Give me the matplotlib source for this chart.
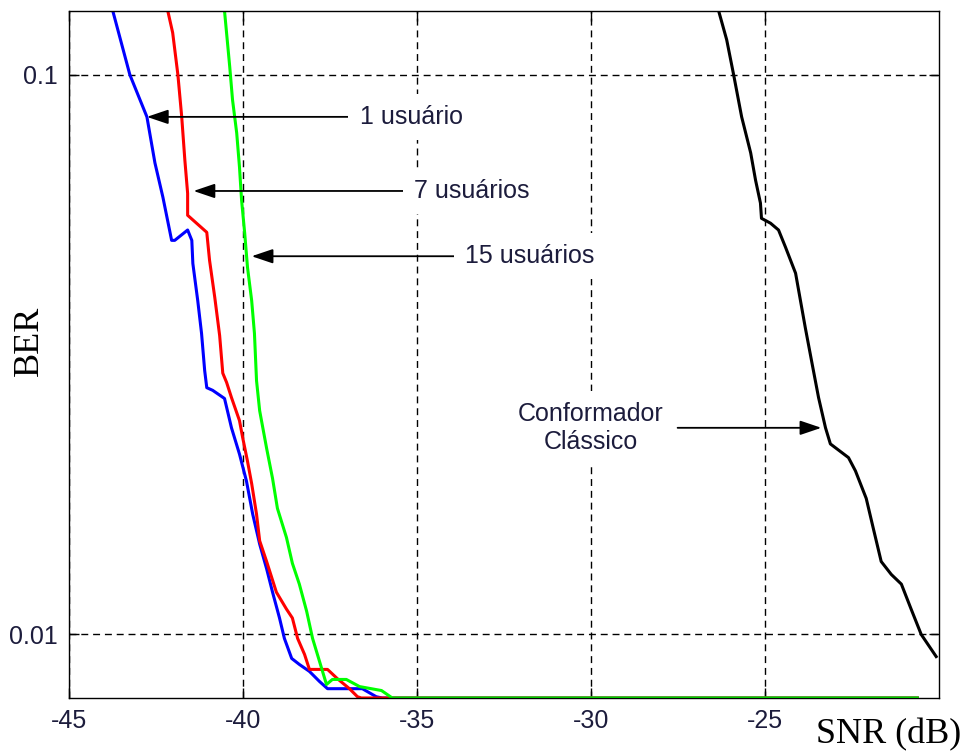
import matplotlib
matplotlib.use("Agg")
import matplotlib.pyplot as plt

plt.rcParams["font.family"] = ["Liberation Sans", "DejaVu Sans"]
plt.rcParams["axes.unicode_minus"] = False

# BER floor (values at the bottom of the plot)
BER_FLOOR = 0.0077

# 1 usuario (blue)
snr_1 = [-43.74, -43.25, -42.76, -42.53, -42.30, -42.05, -41.96, -41.59, -41.47, -41.44,
         -41.30, -41.19, -41.10, -41.04, -40.87, -40.53, -40.33, -40.10, -39.90, -39.72,
         -39.52, -39.32, -39.15, -38.95, -38.81, -38.60, -38.38, -38.09, -37.80, -37.57,
         -37.23, -36.57, -36.17, -36.0, -20.62]
ber_1 = [0.130, 0.100, 0.0841, 0.0696, 0.0604, 0.0506, 0.0506, 0.0528, 0.0506, 0.0460,
         0.0395, 0.0345, 0.0296, 0.0276, 0.0273, 0.0264, 0.0234, 0.0210, 0.0188, 0.0164,
         0.0145, 0.0131, 0.0119, 0.0107, 0.00984, 0.00906, 0.00884, 0.00859, 0.00824, 0.0080,
         0.0080, 0.0080, 0.00774, BER_FLOOR, BER_FLOOR]

# 7 usuarios (red)
snr_7 = [-42.16, -42.02, -41.87, -41.76, -41.67, -41.59, -41.59, -41.04, -40.96, -40.81,
         -40.67, -40.58, -40.47, -40.33, -40.10, -40.01, -39.87, -39.75, -39.61, -39.52,
         -39.32, -39.04, -38.75, -38.58, -38.43, -38.23, -38.09, -37.57, -37.29, -36.94,
         -36.71, -36.6, -20.62]
ber_7 = [0.130, 0.1189, 0.100, 0.0841, 0.0704, 0.0614, 0.0561, 0.0523, 0.0466, 0.0400,
         0.0342, 0.0293, 0.0282, 0.0265, 0.0241, 0.0225, 0.0204, 0.0186, 0.0164, 0.0147,
         0.0135, 0.0119, 0.0111, 0.0107, 0.00984, 0.00921, 0.00866, 0.00866, 0.00834, 0.0080,
         0.00774, BER_FLOOR, BER_FLOOR]

# 15 usuarios (green)
snr_15 = [-40.53, -40.38, -40.30, -40.18, -40.10, -40.04, -39.95, -39.87, -39.75, -39.67,
          -39.61, -39.52, -39.32, -39.15, -39.01, -38.75, -38.58, -38.38, -38.17, -38.00,
          -37.80, -37.60, -37.43, -37.03, -36.65, -36.17, -36.02, -35.71, -20.62]
ber_15 = [0.130, 0.1033, 0.0902, 0.0787, 0.0684, 0.0597, 0.0521, 0.0453, 0.0395, 0.0345,
          0.0284, 0.0251, 0.0215, 0.0190, 0.0168, 0.0149, 0.0134, 0.0123, 0.0110, 0.00984,
          0.00895, 0.00814, 0.00831, 0.00831, 0.00807, 0.00797, 0.00794, BER_FLOOR, BER_FLOOR]

# Conformador Classico (black)
snr_cc = [-26.33, -26.10, -25.90, -25.67, -25.41, -25.27, -25.13, -25.10, -24.84, -24.61,
          -24.41, -24.12, -23.98, -23.84, -23.66, -23.46, -23.26, -23.12, -22.95, -22.60,
          -22.40, -22.09, -21.89, -21.66, -21.37, -21.08, -20.80, -20.51, -20.08]
ber_cc = [0.130, 0.1155, 0.100, 0.0841, 0.0725, 0.0648, 0.0590, 0.0554, 0.0543, 0.0528,
          0.0492, 0.0442, 0.0395, 0.0353, 0.0308, 0.0265, 0.0234, 0.0219, 0.0215, 0.0207,
          0.0196, 0.0175, 0.0155, 0.0135, 0.0128, 0.0123, 0.0111, 0.0100, 0.00913]

x_ticks = [-45, -40, -35, -30, -25]
y_ticks = [0.1, 0.01]
y_tick_labels = ["0.1", "0.01"]

fig = plt.figure(figsize=(9.7, 7.54), dpi=100)
ax = fig.add_axes([0.0711, 0.0743, 0.8969, 0.9111])

ax.plot(snr_cc, ber_cc, color="black", lw=2.2)
ax.plot(snr_1, ber_1, color="#0000ff", lw=2.2)
ax.plot(snr_7, ber_7, color="#ff0000", lw=2.2)
ax.plot(snr_15, ber_15, color="#00ff00", lw=2.2)

ax.set_yscale("log")
ax.set_xlim(-45, -20)
ax.set_ylim(BER_FLOOR, 0.13)
ax.set_xticks(x_ticks)
ax.set_xticklabels([str(t) for t in x_ticks])
ax.set_yticks(y_ticks)
ax.set_yticklabels(y_tick_labels)
ax.minorticks_off()
ax.tick_params(direction="in", length=7, width=1, top=True, right=True,
               labelsize=18, labelcolor="#1c1c3c", pad=8)
ax.grid(True, color="black", linestyle=(0, (5, 3.5)), lw=1)
for s in ax.spines.values():
    s.set_linewidth(1)

# anotacoes
txt_box = dict(boxstyle="square,pad=0.45", fc="white", ec="none")
arrow = dict(arrowstyle="-|>,head_length=0.65,head_width=0.22", color="black",
             lw=1.3, shrinkA=0, shrinkB=0, mutation_scale=20)

ax.annotate("", xy=(-42.76, 0.0841), xytext=(-36.94, 0.0841), arrowprops=arrow)
ax.text(-36.65, 0.0841, "1 usuário", fontsize=18, color="#1c1c3c", ha="left", va="center", bbox=txt_box)

ax.annotate("", xy=(-41.42, 0.0620), xytext=(-35.34, 0.0620), arrowprops=arrow)
ax.text(-35.08, 0.0620, "7 usuários", fontsize=18, color="#1c1c3c", ha="left", va="center", bbox=txt_box)

ax.annotate("", xy=(-39.75, 0.0474), xytext=(-33.73, 0.0474), arrowprops=arrow)
ax.text(-33.62, 0.0474, "15 usuários", fontsize=18, color="#1c1c3c", ha="left", va="center", bbox=txt_box)

ax.annotate("", xy=(-23.38, 0.0234), xytext=(-27.51, 0.0234), arrowprops=arrow)
ax.text(-30.0, 0.0234, "Conformador\nClássico", fontsize=18, color="#1c1c3c", ha="center", va="center",
        multialignment="center", linespacing=1.2, bbox=txt_box)

ax.set_ylabel("BER", fontsize=26, family="Liberation Serif")
ax.yaxis.set_label_coords(-0.027, 0.52)
fig.text(816 / 970, 0.025, "SNR (dB)", fontsize=26, family="Liberation Serif", ha="left", va="center")

fig.savefig("out.png", dpi=100)
